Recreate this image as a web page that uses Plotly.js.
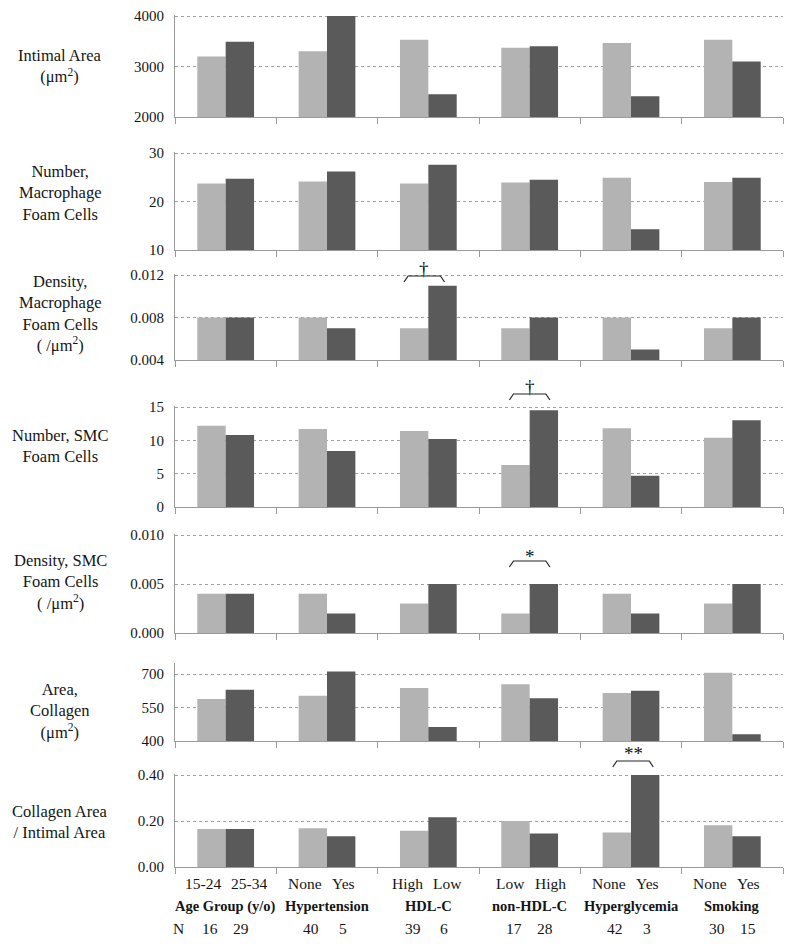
<!DOCTYPE html>
<html><head><meta charset="utf-8">
<script src="https://cdn.plot.ly/plotly-3.0.1.min.js"></script>
<style>body{margin:0;background:#fff}</style>
</head><body><div id="chart" style="width:800px;height:944px"></div>
<script>
// ---- data ----
const groups = ['Age Group (y/o)','Hypertension','HDL-C','non-HDL-C','Hyperglycemia','Smoking'];
const subLabelsA = ['15-24','None','High','Low','None','None'];
const subLabelsB = ['25-34','Yes','Low','High','Yes','Yes'];
const nA = [16,40,39,17,42,30];
const nB = [29,5,6,28,3,15];

const intimalA = [3200,3300,3530,3370,3465,3530];
const intimalB = [3490,4000,2450,3400,2410,3100];
const macroNumA = [23.7,24.1,23.7,23.9,24.9,24.0];
const macroNumB = [24.7,26.2,27.6,24.5,14.3,24.9];
const macroDenA = [0.008,0.008,0.007,0.007,0.008,0.007];
const macroDenB = [0.008,0.007,0.011,0.008,0.005,0.008];
const smcNumA = [12.2,11.7,11.4,6.3,11.8,10.4];
const smcNumB = [10.8,8.4,10.2,14.5,4.7,13.0];
const smcDenA = [0.004,0.004,0.003,0.002,0.004,0.003];
const smcDenB = [0.004,0.002,0.005,0.005,0.002,0.005];
const collagenA = [588,603,638,655,615,706];
const collagenB = [630,712,463,592,626,430];
const ratioA = [0.165,0.168,0.158,0.200,0.150,0.181];
const ratioB = [0.165,0.134,0.216,0.146,0.400,0.134];

const panelTitles = [
  'Intimal Area<br>(μm<sup>2</sup>)',
  'Number,<br>Macrophage<br>Foam Cells',
  'Density,<br>Macrophage<br>Foam Cells<br>( /μm<sup>2</sup>)',
  'Number, SMC<br>Foam Cells',
  'Density, SMC<br>Foam Cells<br>( /μm<sup>2</sup>)',
  'Area,<br>Collagen<br>(μm<sup>2</sup>)',
  'Collagen Area<br>/ Intimal Area'
];
const yTicks = [
  [2000,3000,4000],[10,20,30],[0.004,0.008,0.012],[0,5,10,15],
  [0,0.005,0.010],[400,550,700],[0,0.2,0.4]
];
const yRanges = [[2000,4000],[10,30],[0.004,0.012],[0,15],[0,0.010],[400,750],[0,0.4]];
const yFormats = ['d','d','.3f','d','.3f','d','.2f'];

// significance marks
const sigPanel = [2,3,4,6];
const sigGroup = [2,3,3,4];
const sigText = ['†','†','*','**'];

// ---- layout (pixel geometry) ----
const W = 800, H = 944;
const seriesA = [intimalA,macroNumA,macroDenA,smcNumA,smcDenA,collagenA,ratioA];
const seriesB = [intimalB,macroNumB,macroDenB,smcNumB,smcDenB,collagenB,ratioB];
const panelPx = [[16,117],[153,250],[275,360],[407,507],[535,633],[663,741],[775,867]];
const titleCenterPx = [66,193,313,446,582,711,822];
const sigLinePx = [276,394,561,761];
const sigTextPx = [269,386,556,753];
const sigOffset = [-0.04,0,0,0.02];
const xDom = [175/W, 783/W];
const py = p => 1 - p/H;
const px = p => p/W;
const nG = groups.length;
const xIdx = groups.map((g,i)=>i);
const light = '#b3b3b3', dark = '#5a5a5a';
const serif = '"Liberation Serif", "Times New Roman", serif';
const txt = '#151515';

const data = [];
const layout = {
  width: W, height: H,
  margin: {l:0,r:0,t:0,b:0},
  paper_bgcolor: '#fff', plot_bgcolor: '#fff',
  barmode: 'group', bargap: 0.44, bargroupgap: 0,
  showlegend: false,
  font: {family: serif, color: txt},
  annotations: [], shapes: []
};

for (let k = 0; k < 7; k++) {
  const s = k === 0 ? '' : String(k+1);
  data.push({type:'bar', x:xIdx, y:seriesA[k], xaxis:'x'+s, yaxis:'y'+s,
    marker:{color:light}, hoverinfo:'y'});
  data.push({type:'bar', x:xIdx, y:seriesB[k], xaxis:'x'+s, yaxis:'y'+s,
    marker:{color:dark}, hoverinfo:'y'});
  const seps = []; for (let i = 0; i <= nG; i++) seps.push(i - 0.5);
  // extend the top of the range by ~1.5px so the top gridline is drawn
  const r = yRanges[k], pxH = panelPx[k][1] - panelPx[k][0];
  const top = (k === 5) ? r[1] : r[1] + (r[1]-r[0]) * 1.5 / pxH;
  layout['xaxis'+s] = {
    domain: xDom, anchor: 'y'+s, range: [-0.5, nG-0.5],
    tickvals: seps, ticks: 'outside', ticklen: 6, tickcolor: '#9a9a9a', tickwidth: 1,
    showticklabels: false, showline: true, linecolor: '#9a9a9a', linewidth: 1,
    showgrid: false, zeroline: false, fixedrange: true
  };
  layout['yaxis'+s] = {
    domain: [py(panelPx[k][1]), py(panelPx[k][0] - (k === 5 ? 0 : 1.5))], anchor: 'x'+s,
    range: [r[0], top], tickvals: yTicks[k], tickformat: yFormats[k],
    showline: true, linecolor: '#9a9a9a', linewidth: 1,
    showgrid: true, gridcolor: '#a0a0a0', griddash: 'dot', gridwidth: 1,
    zeroline: false, ticks: '', ticklabelstandoff: 7,
    tickfont: {family: serif, size: 15, color: txt}, fixedrange: true
  };
  layout.annotations.push({
    xref:'paper', yref:'paper', x: px(60), y: py(titleCenterPx[k]),
    xanchor:'center', yanchor:'middle', align:'center', showarrow:false,
    text: panelTitles[k], font:{family: serif, size: 16.5, color: txt}
  });
}

// bottom labels
const subPx = 883, grpPx = 906, nPx = 928;
for (let i = 0; i < nG; i++) {
  layout.annotations.push({xref:'x7', yref:'paper', x: i-0.03, y: py(subPx), xanchor:'right', yanchor:'middle',
    showarrow:false, text: subLabelsA[i], font:{family: serif, size: 15.5, color: txt}});
  layout.annotations.push({xref:'x7', yref:'paper', x: i+0.03, y: py(subPx), xanchor:'left', yanchor:'middle',
    showarrow:false, text: subLabelsB[i], font:{family: serif, size: 15.5, color: txt}});
  layout.annotations.push({xref:'x7', yref:'paper', x: i, y: py(grpPx), xanchor:'center', yanchor:'middle',
    showarrow:false, text: '<b>'+groups[i]+'</b>', font:{family: serif, size: 14.5, color: txt}});
  layout.annotations.push({xref:'x7', yref:'paper', x: i-0.155, y: py(nPx), xanchor:'center', yanchor:'middle',
    showarrow:false, text: String(nA[i]), font:{family: serif, size: 15.5, color: txt}});
  layout.annotations.push({xref:'x7', yref:'paper', x: i+0.155, y: py(nPx), xanchor:'center', yanchor:'middle',
    showarrow:false, text: String(nB[i]), font:{family: serif, size: 15.5, color: txt}});
}
layout.annotations.push({xref:'paper', yref:'paper', x: px(178), y: py(nPx), xanchor:'center', yanchor:'middle',
  showarrow:false, text: 'N', font:{family: serif, size: 15.5, color: txt}});

// significance brackets
const catW = (xDom[1]-xDom[0]) / nG;
for (let j = 0; j < sigPanel.length; j++) {
  const c = xDom[0] + (sigGroup[j] + 0.5 + sigOffset[j]) * catW;
  const hw = 0.2 * catW, inset = 0.04 * catW;
  const yl = py(sigLinePx[j]), ye = py(sigLinePx[j] + 6);
  layout.shapes.push({type:'path', xref:'paper', yref:'paper',
    path: `M ${c-hw} ${ye} L ${c-hw+inset} ${yl} L ${c+hw-inset} ${yl} L ${c+hw} ${ye}`,
    line:{color:'#222', width:1.2}});
  layout.annotations.push({xref:'paper', yref:'paper', x: c, y: py(sigTextPx[j]),
    xanchor:'center', yanchor:'middle', showarrow:false, text: sigText[j],
    font:{family: serif, size: 19, color: '#111'}});
}

Plotly.newPlot('chart', data, layout, {displayModeBar:false, staticPlot:true});
</script>
</body></html>
